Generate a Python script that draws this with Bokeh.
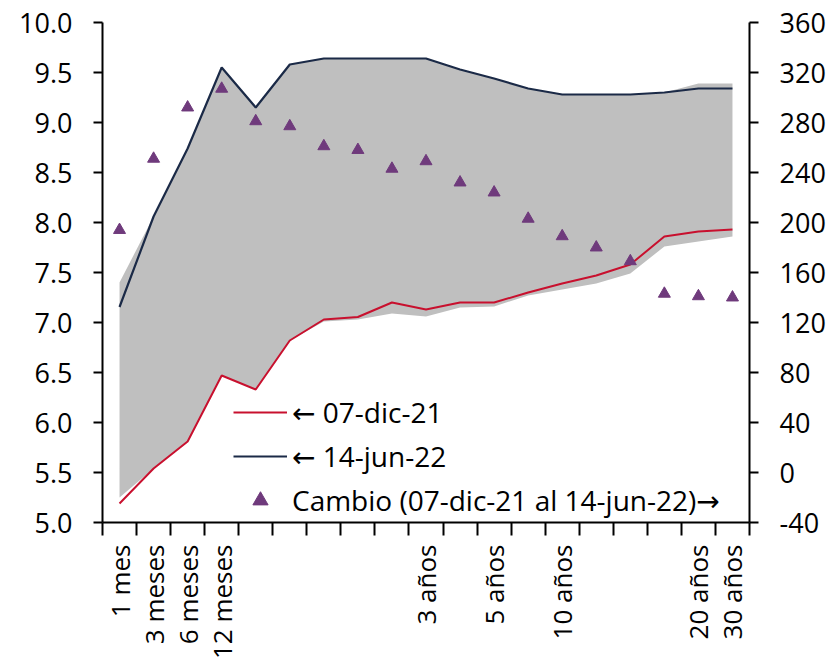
import math
from bokeh.plotting import figure
from bokeh.models import (Range1d, LinearAxis, FixedTicker, NumeralTickFormatter,
                          Legend, LegendItem, ColumnDataSource)
from bokeh.embed import file_html
from bokeh.resources import INLINE

# ---- data ----
plazos = ["1 mes", "3 meses", "6 meses", "12 meses", "", "", "", "", "", "3 años",
          "", "5 años", "", "10 años", "", "", "", "20 años", "30 años"]
dic21 = [5.19, 5.54, 5.81, 6.47, 6.33, 6.82, 7.03, 7.055, 7.20, 7.13,
         7.20, 7.20, 7.30, 7.39, 7.47, 7.58, 7.86, 7.91, 7.93]
jun22 = [7.155, 8.06, 8.74, 9.55, 9.15, 9.58, 9.64, 9.64, 9.64, 9.64,
         9.53, 9.44, 9.34, 9.28, 9.28, 9.28, 9.30, 9.34, 9.34]
cambio = [194, 251, 292, 307, 281, 277, 261, 258, 243, 249,
          232, 224, 203, 189, 180, 169, 143, 141, 140]
rango_max = [7.40, 8.06, 8.74, 9.55, 9.15, 9.58, 9.64, 9.64, 9.64, 9.64,
             9.53, 9.44, 9.34, 9.28, 9.28, 9.28, 9.30, 9.39, 9.39]
rango_min = [5.25, 5.54, 5.81, 6.47, 6.33, 6.82, 7.01, 7.03, 7.09, 7.06,
             7.15, 7.16, 7.27, 7.33, 7.39, 7.49, 7.76, 7.81, 7.86]

x = list(range(len(plazos)))
src = ColumnDataSource(dict(x=x, dic21=dic21, jun22=jun22, cambio=cambio,
                            lo=rango_min, hi=rango_max))

FONT = "Open Sans"
LEG_FONT = "'Open Sans', 'DejaVu Sans'"
FS = "27px"

p = figure(width=828, height=663, output_backend="svg", toolbar_location=None,
           x_range=Range1d(-0.5, len(plazos) - 0.5), y_range=Range1d(5.0, 10.0),
           min_border_left=102, min_border_right=76, min_border_top=22,
           min_border_bottom=141, x_axis_location="below", y_axis_location="left")
p.outline_line_color = None
p.xgrid.visible = False
p.ygrid.visible = False
p.background_fill_color = "white"
p.border_fill_color = "white"

p.extra_y_ranges = {"cambio": Range1d(-40, 360)}

band = p.varea(x="x", y1="lo", y2="hi", source=src, fill_color="#BFBFBF")
r_dic = p.line(x="x", y="dic21", source=src, line_color="#C8102E", line_width=2)
r_jun = p.line(x="x", y="jun22", source=src, line_color="#1B2A47", line_width=2.2)
r_cam = p.scatter(x="x", y="cambio", source=src, marker="triangle", size=12,
                  fill_color="#6F3A7C", line_color="#6F3A7C", y_range_name="cambio")

# x axis
xa = p.xaxis[0]
labeled = [i for i, t in enumerate(plazos) if t]
xa.ticker = FixedTicker(ticks=labeled,
                        minor_ticks=[i - 0.5 for i in range(len(plazos) + 1)])
xa.major_label_overrides = {i: plazos[i] for i in labeled}
xa.major_label_orientation = math.pi / 2
xa.major_tick_out = 0
xa.major_tick_in = 0
xa.minor_tick_out = 13
xa.minor_tick_in = 0
xa.minor_tick_line_width = 2
xa.minor_tick_line_color = "black"
xa.axis_line_width = 2
xa.axis_line_color = "black"
xa.major_label_standoff = 9
xa.major_label_text_font = FONT
xa.major_label_text_font_size = "26px"
xa.major_label_text_color = "black"

# left axis
ya = p.yaxis[0]
ya.ticker = FixedTicker(ticks=[5.0 + 0.5 * i for i in range(11)])
ya.formatter = NumeralTickFormatter(format="0.0")
ya.major_tick_out = 9
ya.major_tick_in = 0
ya.minor_tick_out = 0
ya.minor_tick_in = 0
ya.major_tick_line_width = 2
ya.axis_line_width = 2
ya.axis_line_color = "black"
ya.major_tick_line_color = "black"
ya.major_label_standoff = 21
ya.major_label_text_font = FONT
ya.major_label_text_font_size = FS
ya.major_label_text_color = "black"

# right axis
ra = LinearAxis(y_range_name="cambio")
ra.ticker = FixedTicker(ticks=[-40 + 40 * i for i in range(11)])
ra.formatter = NumeralTickFormatter(format="0")
ra.major_tick_out = 9
ra.major_tick_in = 0
ra.minor_tick_out = 0
ra.minor_tick_in = 0
ra.major_tick_line_width = 2
ra.axis_line_width = 2
ra.axis_line_color = "black"
ra.major_tick_line_color = "black"
ra.major_label_standoff = 21
ra.major_label_text_font = FONT
ra.major_label_text_font_size = FS
ra.major_label_text_color = "black"
p.add_layout(ra, "right")

legend = Legend(items=[
    LegendItem(label="\u2190 07-dic-21", renderers=[r_dic]),
    LegendItem(label="\u2190 14-jun-22", renderers=[r_jun]),
    LegendItem(label="Cambio (07-dic-21 al 14-jun-22)\u2192", renderers=[r_cam]),
], location=(131, 3))
legend.border_line_color = None
legend.background_fill_alpha = 0
legend.padding = 0
legend.margin = 0
legend.spacing = 6
legend.glyph_width = 54
legend.glyph_height = 38
legend.label_height = 38
legend.label_standoff = 5
legend.label_text_font = LEG_FONT
legend.label_text_font_size = "28px"
legend.label_text_color = "black"
legend.label_text_baseline = "middle"
p.add_layout(legend)

open("out.html", "w").write(file_html(p, INLINE))
